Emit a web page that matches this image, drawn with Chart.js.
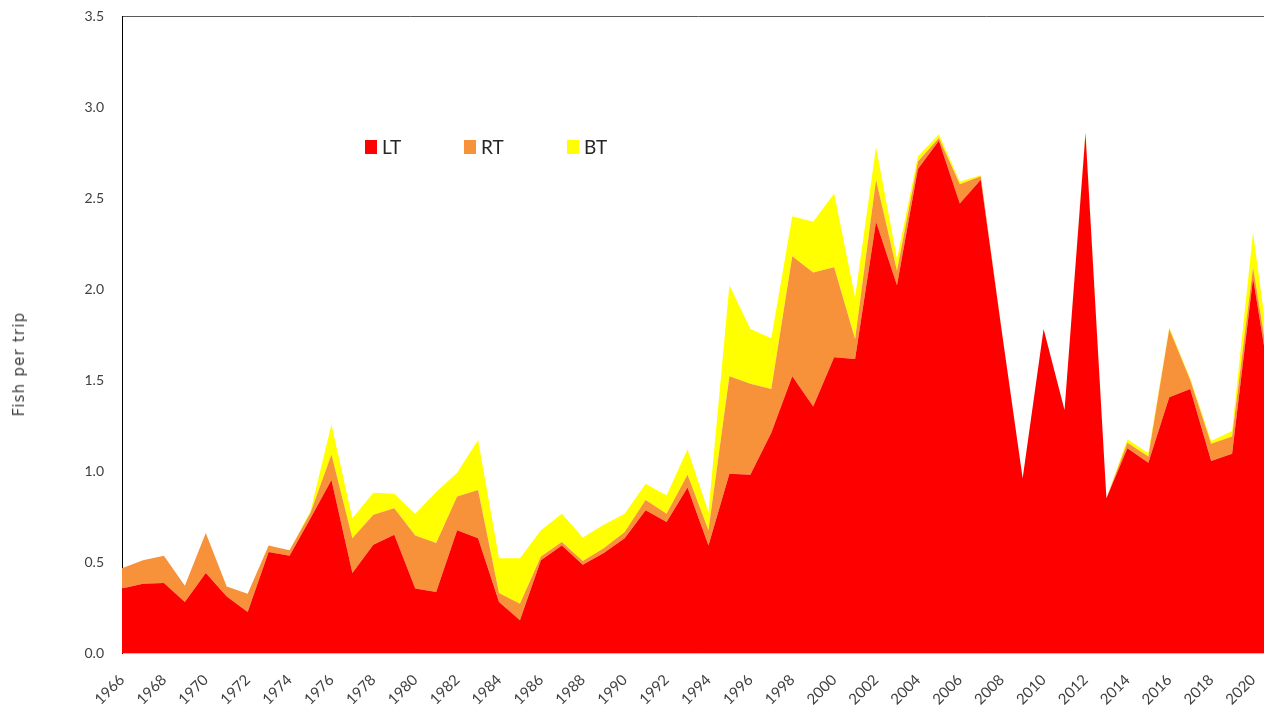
<!DOCTYPE html>
<html>
<head>
<meta charset="utf-8">
<script src="https://cdn.jsdelivr.net/npm/chart.js@4.4.1/dist/chart.umd.min.js"></script>
<style>
  html, body { margin: 0; padding: 0; background: #fff; overflow: hidden; width: 1264px; height: 710px; }
  #wrap { position: relative; width: 1290px; height: 710px; }
  #ytitle { position: absolute; left: 19px; top: 364px; transform: translate(-50%, -50%) rotate(-90deg);
            font: 15px "DejaVu Sans"; color: #404040; letter-spacing: 1.2px; white-space: nowrap; }
  .leg { position: absolute; top: 137px; font: 19px Lato; color: #262626; display: flex; align-items: center; line-height: 20px; }
  .leg i { display: inline-block; width: 12px; height: 14px; margin-right: 5px; }
</style>
</head>
<body>
<div id="wrap">
  <canvas id="myChart" width="1290" height="710"></canvas>
  <div id="ytitle">Fish per trip</div>
  <div id="legend"></div>
</div>
<script>
// years on the x axis
var years = [];
for (var y = 1966; y <= 2021; y++) years.push(String(y));

// fish per trip
var lt = [0.355, 0.38, 0.385, 0.28, 0.44, 0.31, 0.225, 0.555, 0.535, 0.74,
          0.95, 0.44, 0.595, 0.65, 0.355, 0.335, 0.675, 0.63, 0.28, 0.18,
          0.51, 0.59, 0.485, 0.55, 0.63, 0.785, 0.72, 0.91, 0.59, 0.985,
          0.98, 1.21, 1.52, 1.355, 1.625, 1.615, 2.37, 2.02, 2.66, 2.815,
          2.47, 2.6, 1.77, 0.96, 1.78, 1.335, 2.855, 0.85, 1.125, 1.045,
          1.405, 1.45, 1.055, 1.095, 2.06, 1.35];
var rt = [0.11, 0.13, 0.15, 0.09, 0.22, 0.055, 0.10, 0.035, 0.03, 0.03,
          0.14, 0.19, 0.165, 0.145, 0.29, 0.27, 0.185, 0.265, 0.05, 0.09,
          0.02, 0.02, 0.02, 0.025, 0.035, 0.055, 0.045, 0.07, 0.085, 0.535,
          0.50, 0.24, 0.66, 0.735, 0.495, 0.11, 0.23, 0.08, 0.04, 0.015,
          0.105, 0.02, 0, 0, 0, 0, 0.005, 0, 0.03, 0.035,
          0.375, 0.05, 0.095, 0.095, 0.06, 0.05];
var bt = [0, 0, 0, 0, 0, 0, 0, 0, 0, 0.01,
          0.165, 0.11, 0.12, 0.08, 0.12, 0.28, 0.13, 0.275, 0.19, 0.25,
          0.145, 0.155, 0.13, 0.13, 0.10, 0.09, 0.10, 0.14, 0.10, 0.50,
          0.30, 0.28, 0.22, 0.28, 0.405, 0.23, 0.18, 0.065, 0.03, 0.02,
          0.015, 0.005, 0, 0, 0, 0, 0.01, 0, 0.02, 0.017,
          0.01, 0.01, 0.015, 0.03, 0.19, 0.05];

var seriesNames = ['LT', 'RT', 'BT'];
var seriesColors = ['#FF0000', '#F7923A', '#FFFF00'];
var seriesData = [lt, rt, bt];
var legendX = [365, 464, 567];

var datasets = [];
for (var i = 0; i < seriesNames.length; i++) {
  datasets.push({
    label: seriesNames[i],
    data: seriesData[i],
    backgroundColor: seriesColors[i],
    borderWidth: 0,
    pointRadius: 0,
    tension: 0,
    fill: i === 0 ? 'origin' : '-1'
  });
}

var ctx = document.getElementById('myChart').getContext('2d');
var myChart = new Chart(ctx, {
  type: 'line',
  data: { labels: years, datasets: datasets },
  options: {
    responsive: false,
    animation: false,
    layout: { padding: { top: 16, right: 16, left: 0, bottom: 0 } },
    plugins: { legend: { display: false }, tooltip: { enabled: false } },
    scales: {
      x: {
        type: 'category',
        offset: false,
        grid: { display: false, drawTicks: false },
        border: { display: true, color: '#BFBFBF', width: 1 },
        ticks: {
          autoSkip: false,
          minRotation: 45,
          maxRotation: 45,
          padding: 18,
          color: '#404040',
          font: { family: 'Lato', size: 15 },
          callback: function (v, idx) { return idx % 2 === 0 ? this.getLabelForValue(v) : ''; }
        },
        afterFit: function (scale) { scale.height = 57; scale.paddingRight = 0; }
      },
      y: {
        stacked: true,
        min: 0,
        max: 3.5,
        grid: {
          drawTicks: false,
          color: function (c) { return c.tick && c.tick.value === 3.5 ? '#595959' : 'rgba(0,0,0,0)'; }
        },
        border: { display: true, color: '#000000', width: 1 },
        ticks: {
          stepSize: 0.5,
          padding: 18,
          color: '#404040',
          font: { family: 'Lato', size: 14 },
          callback: function (v) { return v.toFixed(1); }
        },
        afterFit: function (scale) { scale.width = 122; scale.paddingTop = 8; scale.paddingBottom = 8; }
      }
    }
  }
});

// legend placed inside the plot like the original
var leg = document.getElementById('legend');
myChart.data.datasets.forEach(function (ds, i) {
  var d = document.createElement('div');
  d.className = 'leg';
  d.style.left = legendX[i] + 'px';
  d.innerHTML = '<i style="background:' + ds.backgroundColor + '"></i>' + ds.label;
  leg.appendChild(d);
});
</script>
</body>
</html>
